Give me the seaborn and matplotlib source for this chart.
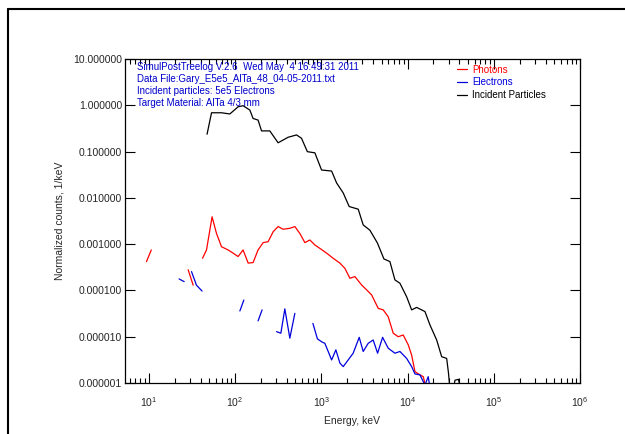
import numpy as np
import pandas as pd
import seaborn as sns
import matplotlib
matplotlib.use("Agg")
import matplotlib.pyplot as plt
from matplotlib.lines import Line2D
from matplotlib.ticker import LogLocator, FormatStrFormatter, NullLocator

nan = np.nan

# Photons (red), NaN marks a gap in the curve
photon_energy = [9.4, 10.7, nan, 28.6, 32.7, nan, 42, 46.7, 54.2, 61, 69.7, 83.2, 95, 108.7, 124,
                 142, 162, 185, 212, 242, 277, 316, 361, 432, 494, 565, 646, 738, 843, 964, 1153,
                 1375, 1644, 1879, 2148, 2455, 2938, 3357, 3837, 4575, 5228, 5975, 6830, 7800,
                 8913, 10190, 11170, 12200, 13930, 15230, 16670]
photon_counts = [4.2e-4, 7.5e-4, nan, 2.8e-4, 1.3e-4, nan, 4.95e-4, 7.5e-4, 3.9e-3, 1.7e-3, 8.8e-4,
                 7.5e-4, 6.4e-4, 5.4e-4, 7.5e-4, 3.9e-4, 4.0e-4, 7.5e-4, 1.08e-3, 1.13e-3, 1.86e-3,
                 2.4e-3, 2.1e-3, 2.2e-3, 2.4e-3, 1.7e-3, 1.08e-3, 1.23e-3, 9.6e-4, 8.1e-4, 6.4e-4,
                 4.95e-4, 3.9e-4, 3.0e-4, 1.83e-4, 1.99e-4, 1.31e-4, 1.03e-4, 8.0e-5, 4.1e-5, 3.8e-5,
                 2.7e-5, 1.19e-5, 1.0e-5, 1.09e-5, 6.7e-6, 4.0e-6, 1.76e-6, 1.5e-6, 1.37e-6, 7e-7]

# Electrons (blue)
electron_energy = [22.5, 25.7, nan, 31.3, 35.7, 41.5, nan, 113.8, 126.5, nan, 185, 206, nan, 303,
                   340, 378, 432, 494, nan, 800, 902, 1017, 1101, 1203, 1318, 1477, 1644, 1796,
                   2052, 2344, 2754, 3064, 3500, 4000, 4500, 5140, 5975, 7144, 8166, 9770, 11170,
                   12200, 13930, 15930, 17380, 18200]
electron_counts = [1.77e-4, 1.55e-4, nan, 2.55e-4, 1.3e-4, 9.7e-5, nan, 3.6e-5, 6.2e-5, nan, 2.2e-5,
                   3.8e-5, nan, 1.29e-5, 1.19e-5, 4.0e-5, 9.3e-6, 3.2e-5, nan, 1.94e-5, 9.0e-6,
                   7.7e-6, 7.2e-6, 4.8e-6, 3.15e-6, 5.2e-6, 2.7e-6, 2.26e-6, 3.15e-6, 4.4e-6, 9.7e-6,
                   4.8e-6, 7.2e-6, 8.5e-6, 4.4e-6, 9.7e-6, 5.65e-6, 4.4e-6, 4.8e-6, 3.4e-6, 2.26e-6,
                   1.57e-6, 1.5e-6, 9e-7, 1.37e-6, 8e-7]

# Incident particles (black)
incident_energy = [47.4, 53.4, 69.7, 87.1, 108.7, 124, 148.5, 162, 185, 203, 253, 316, 413, 517,
                   590, 690, 843, 1008, 1318, 1506, 1796, 2107, 2681, 3064, 3664, 4477, 5324, 6250,
                   7144, 8166, 9770, 11170, 12760, 15930, 18200, 21780, 24890, 28450, 29850, 32000,
                   35500, 38900, 42700]
incident_counts = [0.237, 0.69, 0.69, 0.65, 0.93, 0.98, 0.79, 0.52, 0.48, 0.28, 0.28, 0.155, 0.204,
                   0.229, 0.194, 0.0996, 0.094, 0.040, 0.038, 0.021, 0.0128, 0.0065, 0.0057, 0.0026,
                   0.0020, 0.00106, 0.00048, 0.00042, 1.69e-4, 1.43e-4, 7.3e-5, 3.8e-5, 4.3e-5,
                   3.5e-5, 1.8e-5, 8.5e-6, 3.7e-6, 3.4e-6, 1.65e-6, 4e-7, 1.15e-6, 1.2e-6, 6e-7]

header_lines = ["SimulPostTreelog V.2.6  Wed May  4 16:49:31 2011",
                "Data File:Gary_E5e5_AlTa_48_04-05-2011.txt",
                "Incident particles: 5e5 Electrons",
                "Target Material: AlTa 4/3 mm"]

series = [("Photons", photon_energy, photon_counts, "#ff0000"),
          ("Electrons", electron_energy, electron_counts, "#0000dd"),
          ("Incident Particles", incident_energy, incident_counts, "#000000")]


def to_frame(energy, counts):
    df = pd.DataFrame({"energy": energy, "counts": counts})
    df["seg"] = df["counts"].isna().cumsum()
    return df.dropna()


sns.set_style("ticks")
plt.rcParams['font.family'] = ['Liberation Sans', 'DejaVu Sans']
plt.rcParams['font.size'] = 7

fig = plt.figure(figsize=(6.25, 4.34), dpi=100)
ax = fig.add_axes([0.2, 0.1175, 0.728, 0.7465])

handles = []
for name, en, cn, col in series:
    sns.lineplot(data=to_frame(en, cn), x="energy", y="counts", units="seg", estimator=None,
                 color=col, linewidth=0.9, ax=ax, legend=False)
    handles.append(Line2D([0], [0], color=col, linewidth=0.9))

ax.set_xscale("log")
ax.set_yscale("log")
ax.set_xlim(5.3, 1e6)
ax.set_ylim(1e-6, 10)

ax.yaxis.set_major_locator(LogLocator(base=10, numticks=10))
ax.yaxis.set_major_formatter(FormatStrFormatter("%.6f"))
ax.yaxis.set_minor_locator(NullLocator())
ax.xaxis.set_minor_locator(LogLocator(base=10, subs=np.arange(2, 10), numticks=20))

ax.tick_params(which="both", direction="in", top=True, right=True, color="black")
ax.tick_params(axis="y", labelsize=7.5, pad=2)
ax.tick_params(axis="x", labelsize=7.5, pad=9)
ax.tick_params(which="major", length=7, width=0.8)
ax.tick_params(which="minor", length=3.5, width=0.8)
for sp in ax.spines.values():
    sp.set_linewidth(0.9)
    sp.set_color("black")

ax.set_xlabel("Energy, keV", fontsize=7.5, labelpad=5)
ax.set_ylabel("Normalized counts, 1/keV", fontsize=7.5)
ax.yaxis.set_label_coords(-0.133, 0.5)

for i, line in enumerate(header_lines):
    ax.text(0.026, 0.975 - i * 0.037, line, transform=ax.transAxes, color="#0000cc",
            fontsize=7, va="center", ha="left")

ax.legend(handles, [s[0] for s in series], loc="upper left", bbox_to_anchor=(0.722, 0.995),
          frameon=False, handlelength=1.0, handletextpad=0.5, labelspacing=0.3,
          fontsize=7, labelcolor="linecolor", borderaxespad=0)

# outer frame around the plot
fig.add_artist(Line2D([8 / 625, 1], [1 - 9 / 434, 1 - 9 / 434], transform=fig.transFigure,
                      color="black", linewidth=1.5))
fig.add_artist(Line2D([8 / 625, 8 / 625], [0, 1 - 9 / 434], transform=fig.transFigure,
                      color="black", linewidth=1.5))

fig.savefig("out.png", dpi=100, facecolor="white")
